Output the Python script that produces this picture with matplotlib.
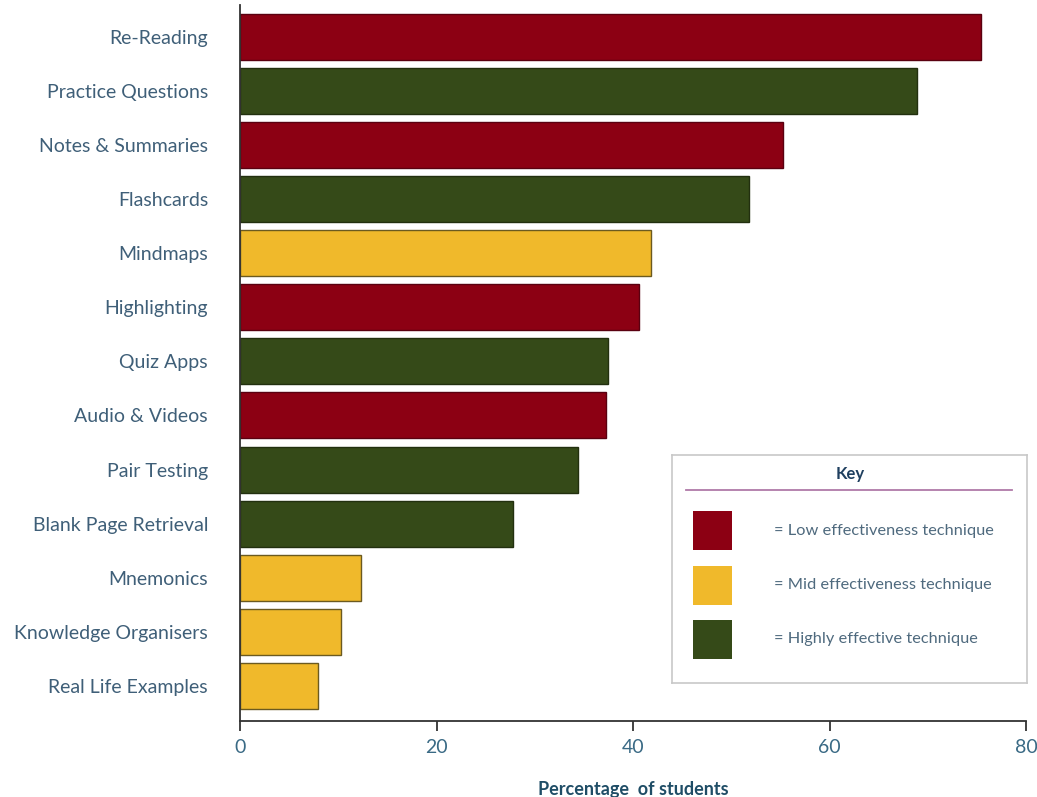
import matplotlib.pyplot as plt
from matplotlib.patches import Rectangle

# data, top to bottom
techniques = ['Re-Reading', 'Practice Questions', 'Notes & Summaries', 'Flashcards',
              'Mindmaps', 'Highlighting', 'Quiz Apps', 'Audio & Videos', 'Pair Testing',
              'Blank Page Retrieval', 'Mnemonics', 'Knowledge Organisers', 'Real Life Examples']
percent = [75.4, 68.9, 55.3, 51.8, 41.8, 40.6, 37.5, 37.3, 34.4, 27.8, 12.3, 10.3, 7.9]
effect = ['low', 'high', 'low', 'high', 'mid', 'low', 'high', 'low', 'high',
          'high', 'mid', 'mid', 'mid']

key_labels = {'low': '= Low effectiveness technique',
              'mid': '= Mid effectiveness technique',
              'high': '= Highly effective technique'}
colours = {'low': '#8c0013', 'mid': '#f0b92b', 'high': '#354a18'}
edges = {'low': '#5a0010', 'mid': '#6b5a20', 'high': '#22300f'}

plt.rcParams['font.family'] = ['Lato', 'DejaVu Sans']
label_col = '#3f5f78'

fig = plt.figure(figsize=(10.37, 7.97), dpi=100)
ax = fig.add_axes([240 / 1037, 1 - 721 / 797, 786 / 1037, 716 / 797])

ypos = list(range(len(techniques)))
ax.barh(ypos, percent, height=0.85,
        color=[colours[e] for e in effect],
        edgecolor=[edges[e] for e in effect], linewidth=1.0)

ax.set_xlim(0, 80)
ax.set_ylim(12.65, -0.59)
ax.set_xticks([0, 20, 40, 60, 80])
ax.set_yticks(ypos)
ax.set_yticklabels(techniques, fontsize=14, color=label_col)
for t in ax.get_yticklabels():
    t.set_y(t.get_position()[1])
ax.tick_params(axis='y', length=0, pad=23)
ax.tick_params(axis='x', length=7, width=1.3, colors='#333333', labelsize=14,
               labelcolor='#3a6a85', pad=6)
for s in ['top', 'right']:
    ax.spines[s].set_visible(False)
for s in ['left', 'bottom']:
    ax.spines[s].set_color('#333333')
    ax.spines[s].set_linewidth(1.3)
ax.set_xlabel('Percentage  of students', fontsize=13, fontweight='bold',
              color='#1f4d66', labelpad=18)

# key box
kax = fig.add_axes([672 / 1037, 1 - 683 / 797, 355 / 1037, 228 / 797])
kax.set_xlim(0, 355)
kax.set_ylim(228, 0)
kax.set_xticks([])
kax.set_yticks([])
for s in kax.spines.values():
    s.set_color('#c8c8c8')
    s.set_linewidth(1.2)
kax.text(178, 19, 'Key', ha='center', va='center', fontsize=12,
         fontweight='bold', color='#1f3f5f')
kax.plot([14, 340], [35, 35], color='#b07aa8', linewidth=1.3)
for i, k in enumerate(['low', 'mid', 'high']):
    y0 = 56 + i * 54.5
    kax.add_patch(Rectangle((21, y0), 39, 39, facecolor=colours[k], edgecolor='none'))
    kax.text(102, y0 + 19.5, key_labels[k], ha='left', va='center', fontsize=11.8,
             color='#4f6a7e')

fig.savefig('out.png', dpi=100)
